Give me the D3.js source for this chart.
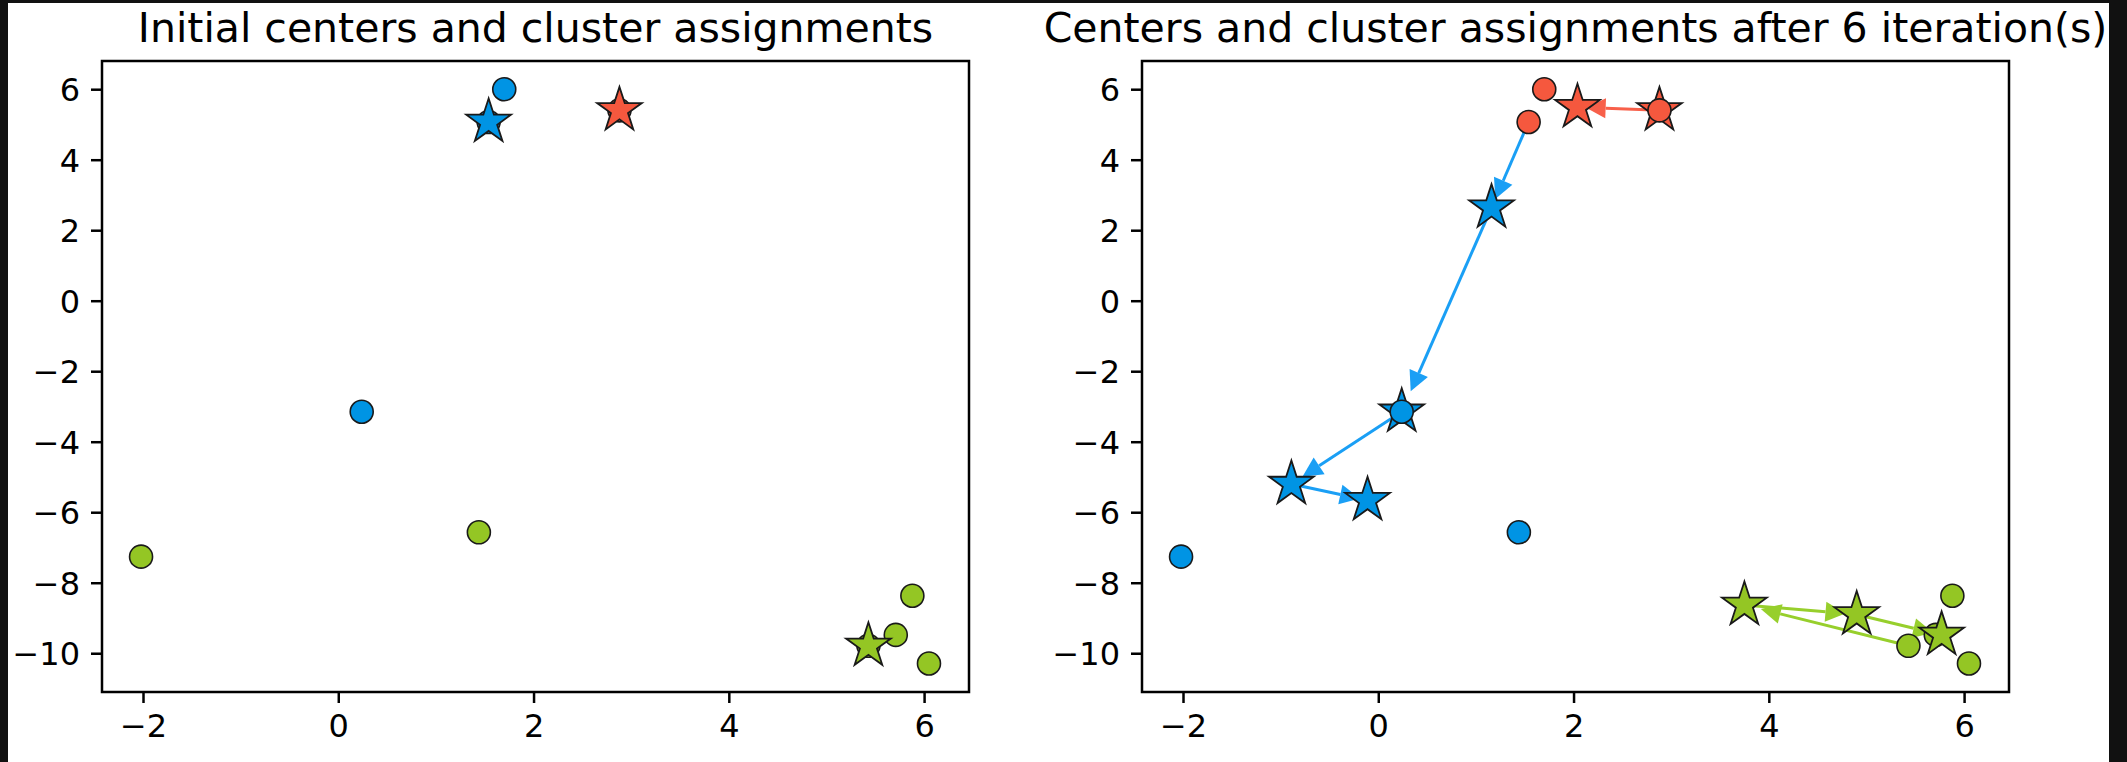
<html>
    <head>
        <meta charset="utf-8">
        <style>
            body { margin: 0; background: #111111; }
            text { font-family: "DejaVu Sans", sans-serif; }
        </style>
    </head>
    <body>

        <svg id="content"></svg>

        <script src="https://cdn.jsdelivr.net/npm/d3@7"></script>
        <script>

            // data points
            let pointsX = [1.70, 1.54, 2.88, 0.24, 1.44, -2.02, 5.88, 5.71, 6.05, 5.43];
            let pointsY = [6.00, 5.07, 5.40, -3.15, -6.57, -7.26, -8.37, -9.48, -10.29, -9.79];

            // cluster index per point: 0 blue, 1 red, 2 green
            let initialLabels = [0, 0, 1, 0, 2, 2, 2, 2, 2, 2];
            let finalLabels = [1, 1, 1, 0, 0, 0, 2, 2, 2, 2];

            // center of each cluster at iteration 0..6
            let blueCenterX = [1.54, 1.16, 0.24, -0.89, -0.11, -0.11, -0.11];
            let blueCenterY = [5.07, 2.64, -3.15, -5.20, -5.66, -5.66, -5.66];
            let redCenterX = [2.88, 2.88, 2.04, 2.04, 2.04, 2.04, 2.04];
            let redCenterY = [5.40, 5.40, 5.49, 5.49, 5.49, 5.49, 5.49];
            let greenCenterX = [5.43, 3.75, 3.75, 4.90, 5.77, 5.77, 5.77];
            let greenCenterY = [-9.79, -8.63, -8.63, -8.90, -9.48, -9.48, -9.48];

            let xTicks = [-2, 0, 2, 4, 6];
            let yTicks = [-10, -8, -6, -4, -2, 0, 2, 4, 6];

            let titles = ["Initial centers and cluster assignments",
                          "Centers and cluster assignments after 6 iteration(s)"];

            let fillColors = ["#0094e4", "#f5583e", "#94c624"];
            let arrowColors = ["#1a9ff5", "#f8604a", "#97cf2c"];
            let edgeColor = "#1a1a1a";

            let centersX = [blueCenterX, redCenterX, greenCenterX];
            let centersY = [blueCenterY, redCenterY, greenCenterY];

            let svgWidth = 2127;
            let svgHeight = 762;

            let plotWidth = 867;
            let plotHeight = 631;
            let plotTop = 61;
            let plotLefts = [102, 1142];

            let svg = d3.select("#content")
                        .attr("width", svgWidth)
                        .attr("height", svgHeight)
                        .style("display", "block");

            svg.append("rect")
                .attr("width", svgWidth)
                .attr("height", svgHeight)
                .attr("fill", "#111111");

            svg.append("rect")
                .attr("x", 8)
                .attr("y", 3)
                .attr("width", 2101)
                .attr("height", svgHeight - 3)
                .attr("fill", "white");

            let xScale = d3.scaleLinear()
                            .domain([-2.42, 6.46])
                            .range([0, plotWidth]);

            let yScale = d3.scaleLinear()
                            .domain([-11.10, 6.80])
                            .range([plotHeight, 0]);

            let starPath = function(R) {
                let r = R * 0.381966;
                let pts = [];
                for (let i = 0; i < 10; i++) {
                    let rad = i % 2 == 0 ? R : r;
                    let a = Math.PI / 2 + i * Math.PI / 5;
                    pts.push([rad * Math.cos(a), -rad * Math.sin(a)]);
                }
                return "M" + pts.map(p => p[0].toFixed(2) + "," + p[1].toFixed(2)).join("L") + "Z";
            };

            let points = pointsX.map((x, i) => ({x: x, y: pointsY[i], init: initialLabels[i], fin: finalLabels[i]}));

            let fmt = d => (d < 0 ? "\u2212" : "") + Math.abs(d);

            function makeAxes(left, title) {
                let g = svg.append("g")
                            .attr("transform", `translate(${left}, ${plotTop})`);

                let xAxis = d3.axisBottom(xScale)
                                .tickValues(xTicks)
                                .tickSize(11)
                                .tickPadding(11)
                                .tickFormat(fmt);
                let yAxis = d3.axisLeft(yScale)
                                .tickValues(yTicks)
                                .tickSize(11)
                                .tickPadding(11)
                                .tickFormat(fmt);

                let xg = g.append("g")
                            .attr("transform", `translate(0, ${plotHeight})`)
                            .call(xAxis);
                let yg = g.append("g").call(yAxis);

                [xg, yg].forEach(a => {
                    a.select(".domain").remove();
                    a.selectAll("line").attr("stroke", "black").attr("stroke-width", 2.5);
                    a.selectAll("text")
                        .attr("fill", "black")
                        .style("font-size", "32px")
                        .style("font-family", "DejaVu Sans");
                });
                xg.selectAll("text").attr("dy", "0.73em");
                yg.selectAll("text").attr("dy", "0.36em");

                g.append("text")
                    .attr("x", plotWidth / 2)
                    .attr("y", -19)
                    .attr("text-anchor", "middle")
                    .style("font-size", "41px")
                    .attr("fill", "black")
                    .text(title);

                let plot = g.append("g");

                g.append("rect")
                    .attr("width", plotWidth)
                    .attr("height", plotHeight)
                    .attr("fill", "none")
                    .attr("stroke", "black")
                    .attr("stroke-width", 2.5);

                return plot;
            }

            // left: initial assignments
            let left = makeAxes(plotLefts[0], titles[0]);

            left.selectAll("circle")
                .data(points)
                .enter()
                .append("circle")
                .attr("cx", d => xScale(d.x))
                .attr("cy", d => yScale(d.y))
                .attr("r", 11.5)
                .attr("fill", d => fillColors[d.init])
                .attr("stroke", edgeColor)
                .attr("stroke-width", 1.6);

            left.selectAll("path.star")
                .data([0, 1, 2])
                .enter()
                .append("path")
                .attr("class", "star")
                .attr("d", starPath(23.5))
                .attr("transform", k => `translate(${xScale(centersX[k][0])}, ${yScale(centersY[k][0])})`)
                .attr("fill", k => fillColors[k])
                .attr("stroke", edgeColor)
                .attr("stroke-width", 1.8);

            // right: center history
            let right = makeAxes(plotLefts[1], titles[1]);

            let arrows = [];
            let histStars = [];
            let finalStars = [];
            for (let k = 0; k < 3; k++) {
                let n = centersX[k].length;
                for (let i = 1; i < n; i++) {
                    let x0 = centersX[k][i - 1], y0 = centersY[k][i - 1];
                    let x1 = centersX[k][i], y1 = centersY[k][i];
                    if (x0 != x1 || y0 != y1) {
                        arrows.push({k: k, x0: x0, y0: y0, x1: x1, y1: y1});
                    }
                    if (i < n - 1) histStars.push({k: k, x: x1, y: y1});
                }
                finalStars.push({k: k, x: centersX[k][n - 1], y: centersY[k][n - 1]});
            }

            let arrowG = right.selectAll("g.arrow")
                            .data(arrows)
                            .enter()
                            .append("g")
                            .attr("class", "arrow");

            arrowG.each(function(d) {
                let g = d3.select(this);
                let px0 = xScale(d.x0), py0 = yScale(d.y0);
                let tx = xScale(d.x0 + (d.x1 - d.x0) * 0.9);
                let ty = yScale(d.y0 + (d.y1 - d.y0) * 0.9);
                let dx = tx - px0, dy = ty - py0;
                let len = Math.sqrt(dx * dx + dy * dy);
                let ux = dx / len, uy = dy / len;
                let hl = 20, hw = 10;
                let bx = tx - ux * hl, by = ty - uy * hl;
                g.append("line")
                    .attr("x1", px0).attr("y1", py0)
                    .attr("x2", bx).attr("y2", by)
                    .attr("stroke", arrowColors[d.k])
                    .attr("stroke-width", 3);
                g.append("path")
                    .attr("d", `M${tx},${ty}L${bx - uy * hw},${by + ux * hw}L${bx + uy * hw},${by - ux * hw}Z`)
                    .attr("fill", arrowColors[d.k]);
            });

            let uniqueHist = histStars.filter((s, i) =>
                histStars.findIndex(t => t.k == s.k && t.x == s.x && t.y == s.y) == i &&
                !finalStars.some(f => f.k == s.k && f.x == s.x && f.y == s.y));

            right.selectAll("path.hist")
                .data(uniqueHist)
                .enter()
                .append("path")
                .attr("class", "hist")
                .attr("d", starPath(23.5))
                .attr("transform", d => `translate(${xScale(d.x)}, ${yScale(d.y)})`)
                .attr("fill", d => fillColors[d.k])
                .attr("stroke", edgeColor)
                .attr("stroke-width", 1.8);

            right.selectAll("circle")
                .data(points)
                .enter()
                .append("circle")
                .attr("cx", d => xScale(d.x))
                .attr("cy", d => yScale(d.y))
                .attr("r", 11.5)
                .attr("fill", d => fillColors[d.fin])
                .attr("stroke", edgeColor)
                .attr("stroke-width", 1.6);

            right.selectAll("path.final")
                .data(finalStars)
                .enter()
                .append("path")
                .attr("class", "final")
                .attr("d", starPath(23.5))
                .attr("transform", d => `translate(${xScale(d.x)}, ${yScale(d.y)})`)
                .attr("fill", d => fillColors[d.k])
                .attr("stroke", edgeColor)
                .attr("stroke-width", 1.8);

        </script>
    </body>
</html>
